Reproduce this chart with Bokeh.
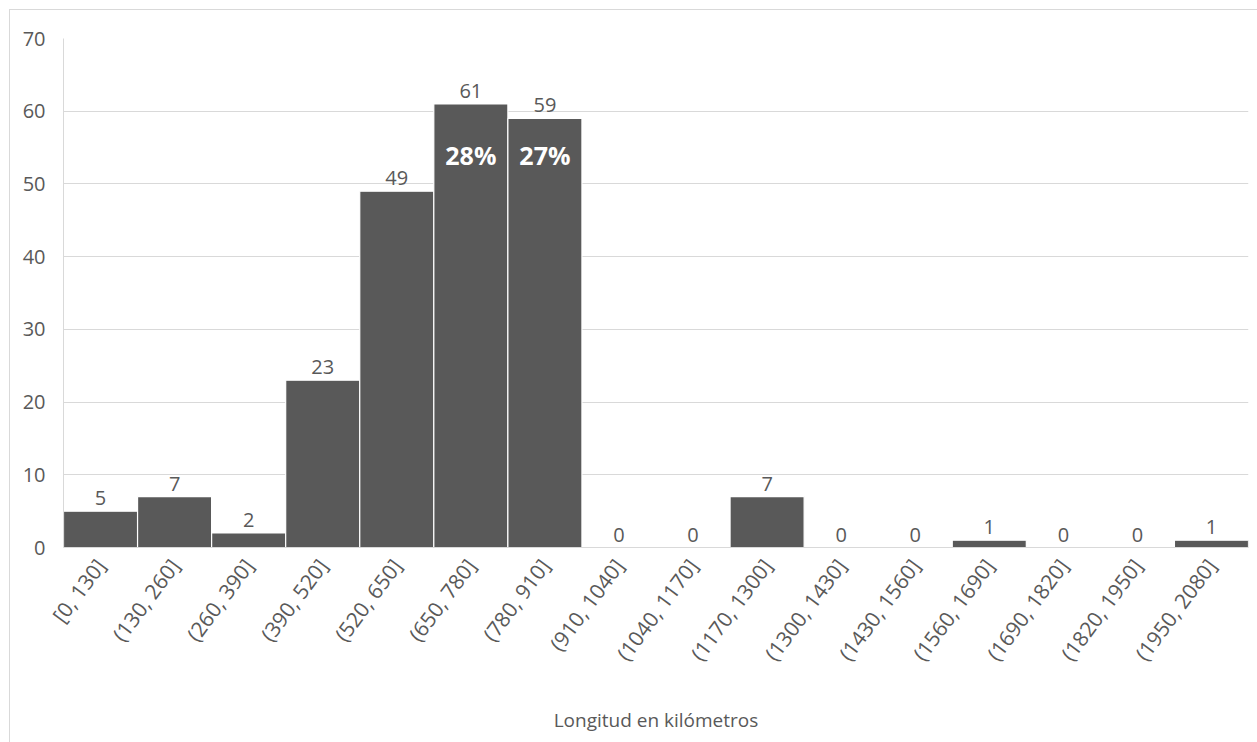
from bokeh.plotting import figure
from bokeh.models import ColumnDataSource, FactorRange, Range1d, FixedTicker
from bokeh.core.properties import value
from bokeh.embed import file_html
from bokeh.resources import INLINE

categories = ["[0, 130]", "(130, 260]", "(260, 390]", "(390, 520]", "(520, 650]",
              "(650, 780]", "(780, 910]", "(910, 1040]", "(1040, 1170]", "(1170, 1300]",
              "(1300, 1430]", "(1430, 1560]", "(1560, 1690]", "(1690, 1820]",
              "(1820, 1950]", "(1950, 2080]"]
counts = [5, 7, 2, 23, 49, 61, 59, 0, 0, 7, 0, 0, 1, 0, 0, 1]
pct_labels = ["", "", "", "", "", "28%", "27%", "", "", "", "", "", "", "", "", ""]
y_ticks = [0, 10, 20, 30, 40, 50, 60, 70]

FONT = "Open Sans"
GRAY = "#595959"
PCT_Y = 54

src = ColumnDataSource(dict(cat=categories, n=counts, lab=[str(c) for c in counts],
                            pct=pct_labels, pct_y=[PCT_Y] * len(categories)))

p = figure(width=1257, height=742, x_range=FactorRange(*categories), y_range=Range1d(0, 70),
           output_backend="svg", toolbar_location=None,
           min_border_left=63, min_border_right=9, min_border_top=38, min_border_bottom=195)
p.outline_line_color = None
p.background_fill_color = "white"
p.border_fill_color = None
p.styles = {"box-shadow": "inset 9px 9px 0 0 white, inset 10px 10px 0 0 #d9d9d9",
            "background-color": "white"}

p.vbar(x="cat", top="n", width=1.0, source=src, fill_color="#595959",
       line_color="white", line_width=1.2)

p.text(x="cat", y="n", text="lab", source=src, text_align="center", text_baseline="bottom",
       y_offset=-6, text_font=value(FONT), text_font_size="20px", text_color=GRAY)
p.text(x="cat", y="pct_y", text="pct", source=src, text_align="center", text_baseline="middle",
       text_font=value(FONT), text_font_size="25px", text_font_style="bold", text_color="white")

p.yaxis.ticker = FixedTicker(ticks=y_ticks)
p.ygrid.grid_line_color = "#d9d9d9"
p.ygrid.grid_line_width = 1
p.xgrid.grid_line_color = None

for ax in (p.xaxis, p.yaxis):
    ax.axis_line_color = "#d9d9d9"
    ax.major_tick_line_color = None
    ax.minor_tick_line_color = None
    ax.major_label_text_color = GRAY
    ax.major_label_text_font = FONT
    ax.major_label_text_font_size = "20px"

p.yaxis.major_label_standoff = 12
p.xaxis.major_label_orientation = 0.93
p.xaxis.major_label_text_font_size = "21px"
p.xaxis.major_label_standoff = 8
p.xaxis.axis_label = "Longitud en kilómetros"
p.xaxis.axis_label_text_font = FONT
p.xaxis.axis_label_text_font_size = "19px"
p.xaxis.axis_label_text_font_style = "normal"
p.xaxis.axis_label_text_color = GRAY
p.xaxis.axis_label_standoff = 30

open("out.html", "w").write(file_html(p, INLINE))
